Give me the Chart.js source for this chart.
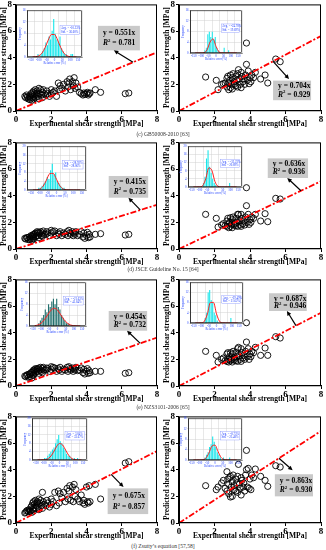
<!DOCTYPE html>
<html lang="en">
<head>
<meta charset="UTF-8">
<title>Predicted vs experimental shear strength</title>
<script src="https://cdn.jsdelivr.net/npm/chart.js@4"></script>
<style>
  html, body { margin: 0; padding: 0; background: #fff; }
  #fig { position: relative; width: 326px; height: 550px; overflow: hidden; }
  #fig canvas { position: absolute; }
  .cap { position: absolute; left: 0; width: 326px; text-align: center;
         font: 5.6px 'Liberation Serif', serif; color: #333; line-height: 8px; }
</style>
</head>
<body>
<div id="fig"></div>
<script>
// ---- data ----
const AXIS_TICKS = [0, 2, 4, 6, 8];

// left column: shared experimental values
const L_X = [0.5,0.55,0.6,0.7,0.75,0.8,0.85,0.9,0.9,0.95,1.0,1.0,0.65,0.8,0.95,1.0,
  1.05,1.1,1.1,1.15,1.2,1.25,1.3,1.3,1.35,1.4,1.45,1.5,1.5,1.55,1.6,1.2,
  1.7,1.75,1.8,1.9,2.0,2.0,2.1,2.2,2.3,2.4,2.45,2.5,
  2.6,2.7,2.8,2.9,2.95,3.0,3.05,3.1,3.2,3.25,3.3,3.35,3.4,3.5,
  3.6,3.7,3.8,3.85,3.9,4.0,4.05,4.1,4.15,4.2,4.5,4.8,
  6.2,6.4];
const C_L_Y = [1.1,1.0,1.2,0.9,1.1,1.0,1.3,0.8,1.2,1.0,1.5,1.1,1.05,0.85,1.4,0.9,
  1.3,1.0,1.6,1.2,1.5,1.1,1.7,0.9,1.3,1.6,1.2,1.4,1.0,1.6,1.3,1.35,
  1.2,1.5,1.3,1.1,1.6,1.3,1.4,1.5,1.1,2.1,1.6,1.9,
  1.7,2.0,1.5,2.2,1.8,2.1,2.4,1.6,2.2,1.9,2.5,1.7,2.1,1.8,
  1.4,1.3,1.2,1.35,1.25,1.3,1.4,1.2,1.3,1.35,1.6,1.4,
  1.3,1.35];
const D_L_Y = [0.8,0.75,0.85,0.7,0.9,0.8,1.0,0.65,0.95,0.8,1.1,0.9,0.85,0.7,1.05,0.75,
  1.1,0.9,1.2,1.0,1.3,1.0,1.25,0.85,1.15,1.3,1.0,1.2,0.95,1.35,1.1,1.2,
  1.1,1.3,1.2,1.0,1.4,1.2,1.3,1.35,1.0,1.2,1.1,1.3,
  1.0,1.2,1.1,1.3,1.0,1.4,1.2,1.1,1.3,1.0,1.2,1.1,1.3,1.0,
  1.1,1.3,0.9,1.2,0.8,1.0,1.25,0.85,1.1,0.9,1.1,1.15,
  1.05,1.1];
const E_L_Y = [0.75,0.7,0.8,0.65,0.9,0.85,1.0,0.6,1.0,0.8,1.2,0.9,0.85,0.7,1.1,0.8,
  1.2,1.0,1.3,1.1,1.3,1.1,1.35,0.95,1.2,1.4,1.1,1.3,1.0,1.4,1.2,1.25,
  1.2,1.35,1.3,1.1,1.45,1.25,1.4,1.35,1.1,1.3,1.2,1.4,
  1.1,1.25,1.2,1.4,1.1,1.45,1.3,1.2,1.35,1.1,1.3,1.2,1.4,1.15,
  1.2,1.35,1.0,1.25,0.9,1.1,1.3,0.95,1.15,1.0,1.1,1.1,
  0.95,1.0];
const F_L_Y = [0.75,0.8,0.9,0.85,1.0,0.9,1.2,0.8,1.3,1.0,1.6,1.1,0.95,0.85,1.5,0.9,
  1.4,1.1,1.7,1.3,1.6,1.2,1.8,1.0,1.5,1.7,1.3,2.3,1.1,1.6,1.4,1.5,
  1.3,1.7,1.5,1.2,1.8,1.4,1.6,2.3,1.3,2.4,1.5,2.2,
  1.9,2.3,1.6,2.6,1.8,2.4,2.8,1.7,2.7,1.6,2.9,2.0,2.5,1.8,
  1.6,2.1,1.5,1.7,1.4,2.7,1.6,1.5,2.8,1.6,2.9,1.8,
  4.5,4.6];

// right column: shared experimental values
const R_X = [1.5,2.1,2.2,2.4,2.5,2.6,2.7,2.7,2.75,2.8,2.8,2.85,2.9,2.9,2.95,3.0,3.0,3.05,3.1,3.1,
  3.2,3.2,3.25,3.3,3.3,3.35,3.4,3.45,3.5,3.5,3.55,3.6,3.65,3.7,3.75,3.8,3.8,3.85,3.9,3.95,
  4.0,4.05,4.1,4.2,4.3,4.6,4.85,5.0,5.45,5.7];
const C_R_Y = [2.55,2.3,1.6,2.0,2.05,2.1,2.45,1.8,2.6,2.1,1.6,2.3,1.75,2.7,2.0,2.5,1.65,2.8,2.2,2.0,
  2.6,1.9,2.3,2.8,1.8,3.1,2.4,2.0,2.9,1.75,2.6,2.2,2.4,2.0,2.7,5.1,3.5,2.3,3.0,2.05,
  2.5,2.2,2.7,2.5,2.9,2.4,2.7,2.1,3.9,3.7];
const D_R_Y = [2.6,2.3,1.65,1.8,1.9,1.75,2.1,1.7,2.3,1.9,1.6,2.0,1.7,2.35,1.85,2.2,1.6,2.4,1.9,1.8,
  2.3,1.75,2.0,2.6,1.7,2.6,2.1,1.8,2.6,1.7,2.3,1.9,2.1,1.8,2.4,4.6,3.25,2.0,2.6,1.85,
  2.2,2.0,2.4,2.3,2.6,2.1,2.65,2.05,3.8,3.75];
const E_R_Y = [2.6,2.3,1.8,2.0,2.1,1.9,2.4,1.85,2.5,2.0,1.8,2.2,1.9,2.5,2.0,2.4,1.8,2.6,2.1,1.95,
  2.5,1.9,2.2,2.8,1.85,2.9,2.3,2.0,2.8,1.85,2.5,2.1,2.3,2.0,2.6,4.75,3.3,2.2,2.8,2.0,
  2.4,2.2,2.6,2.5,2.9,2.3,2.85,2.3,3.7,3.6];
const F_R_Y = [2.8,2.5,2.7,3.0,3.2,2.6,3.85,2.4,3.3,2.9,2.2,3.4,1.95,3.5,2.7,3.1,2.0,3.6,2.8,2.5,
  3.3,2.4,3.0,3.5,2.3,4.4,2.9,2.6,3.4,2.1,3.2,2.7,3.0,2.4,3.6,5.45,4.0,2.7,4.1,2.6,
  3.3,2.5,3.6,3.4,4.05,3.5,3.2,2.75,4.3,4.2];

const SLOPES = ['0.551', '0.704', '0.415', '0.636', '0.454', '0.687', '0.675', '0.863'];
const R2 = ['0.781', '0.929', '0.735', '0.936', '0.732', '0.946', '0.857', '0.930'];

// inset histograms (relative error, %)
const HIST_X = [-145,-135,-125,-115,-105,-95,-85,-75,-65,-55,-45,-35,-25,-15,-5,
  5,15,25,35,45,55,65,75,85,95,105,115,125,135,145];
const C_L_HIST = [0,0,0,0,1,0,1,2,3,5,4,7,6,9,13,8,6,5,7,3,2,1,1,0,0,1,1,0,0,0];
const C_R_HIST = [0,0,0,0,0,0,0,1,2,7,8,6,8,5,6,2,1,0,0,0,2,0,0,1,0,0,0,0,0,0];
const D_L_HIST = [0,0,0,0,1,1,2,3,4,6,5,9,12,7,8,4,3,2,1,1,0,0,0,0,0,0,0,0,0,0];
const D_R_HIST = [0,0,0,0,0,0,0,2,5,14,18,10,7,4,2,1,0,0,0,0,0,0,0,0,2,0,0,0,0,0];
const E_L_HIST = [0,0,0,1,2,3,4,6,5,8,7,9,10,8,10,7,6,4,3,2,1,1,0,0,0,0,0,0,0,0];
const E_R_HIST = [0,0,0,0,0,0,0,2,4,12,13,9,8,4,3,1,0,0,0,0,0,0,0,0,2,0,0,0,0,0];
const F_L_HIST = [0,0,0,0,0,1,1,2,3,4,5,6,8,10,12,9,8,6,5,3,2,2,1,0,1,0,1,0,0,0];
const F_R_HIST = [0,0,0,0,0,0,0,0,1,2,3,5,6,9,7,5,3,2,1,0,1,0,0,0,1,0,0,0,0,0];

const CURVE_X = [-140,-120,-100,-80,-60,-40,-20,0,20,40,60,80,100,120,140];
const C_L_CURVE = [0,0.1,0.42,1.3,3.2,5.8,7.7,7.7,5.8,3.2,1.3,0.42,0.1,0,0];
const C_R_CURVE = [0,0,0,0.12,1.2,4.1,5.3,2.5,0.44,0.03,0,0,0,0,0];
const D_L_CURVE = [0,0.07,0.4,1.7,4.5,7.5,7.6,4.9,1.9,0.47,0.07,0,0,0,0];
const D_R_CURVE = [0,0,0.04,0.63,4.0,9.4,8.1,2.6,0.3,0,0,0,0,0,0];
const E_L_CURVE = [0.11,0.38,1.07,2.35,4.1,5.8,6.5,5.8,4.1,2.35,1.07,0.38,0.11,0.02,0];
const E_R_CURVE = [0,0,0.05,0.68,3.6,8.1,8.1,3.6,0.68,0.05,0,0,0,0,0];
const F_L_CURVE = [0,0.01,0.07,0.38,1.4,3.5,6.3,7.9,7.2,4.6,2.1,0.65,0.15,0.02,0];
const F_R_CURVE = [0,0,0,0.09,0.66,2.6,5.3,5.7,3.2,0.95,0.15,0.01,0,0,0];

const INSET_YMAX = [16, 16, 20, 20, 16, 16, 20, 16];
const AVG = ['-10.33%', '-24.78%', '-28.92%', '-33.23%', '-21.63%', '-29.49%', '3.84%', '-8.73%'];
const STD = ['36.60%', '19.69%', '28.06%', '20.89%', '41.84%', '21.62%', '33.67%', '25.48%'];

const CAPTIONS = ['(c) GB50008-2010 [63]', '(d) JSCE Guideline No. 15 [64]',
  '(e) NZS3101-2006 [65]', '(f) Zsutty\u2019s equation [57,58]'];

// ---- layout ----
const SERIF = "'Liberation Serif', 'Times New Roman', serif";
const fig = document.getElementById('fig');
const ROW_TOP = [3, 141, 278, 415];
const CAP_TOP = [130, 265, 403, 542];
const PLOT_H = 108;

const panels = [
  { col: 0, row: 0, xs: L_X, ys: C_L_Y, hist: C_L_HIST, curve: C_L_CURVE, bar: '#17e6ea',
    box: [4.65, 6.39, 7.03, 4.55], arrow: [6.64, 3.66, 5.55, 4.55], inset: [27, 10, 55, 47] },
  { col: 1, row: 0, xs: R_X, ys: C_R_Y, hist: C_R_HIST, curve: C_R_CURVE, bar: '#17e6ea',
    box: [5.3, 2.28, 7.44, 0.81], arrow: [5.3, 3.73, 6.2, 2.4], inset: [190, 10, 52, 43] },
  { col: 0, row: 1, xs: L_X, ys: D_L_Y, hist: D_L_HIST, curve: D_L_CURVE, bar: '#17e6ea',
    box: [5.26, 5.48, 7.5, 3.85], arrow: [7.05, 2.93, 6.38, 3.85], inset: [27, 146, 59, 44] },
  { col: 1, row: 1, xs: R_X, ys: D_R_Y, hist: D_R_HIST, curve: D_R_CURVE, bar: '#17e6ea',
    box: [5.0, 6.8, 7.27, 5.33], arrow: [6.87, 4.37, 6.1, 5.33], inset: [188, 146, 54, 41] },
  { col: 0, row: 2, xs: L_X, ys: E_L_Y, hist: E_L_HIST, curve: E_L_CURVE, bar: '#23706e',
    box: [5.26, 5.63, 7.44, 4.15], arrow: [7.05, 3.2, 6.3, 4.15], inset: [29, 282, 57, 44] },
  { col: 1, row: 2, xs: R_X, ys: E_R_Y, hist: E_R_HIST, curve: E_R_CURVE, bar: '#17e6ea',
    box: [5.07, 6.96, 7.2, 5.63], arrow: [6.59, 4.53, 6.08, 5.63], inset: [190, 282, 53, 41] },
  { col: 0, row: 3, xs: L_X, ys: F_L_Y, hist: F_L_HIST, curve: F_L_CURVE, bar: '#17e6ea',
    box: [5.2, 2.6, 7.5, 0.67], arrow: [5.4, 3.65, 6.1, 2.7], inset: [32, 418, 55, 42] },
  { col: 1, row: 3, xs: R_X, ys: F_R_Y, hist: F_R_HIST, curve: F_R_CURVE, bar: '#17e6ea',
    box: [5.4, 3.66, 7.55, 2.0], arrow: [5.63, 4.86, 6.4, 3.96], inset: [188, 418, 54, 42] }
];

function addCanvas(left, top, w, h) {
  const c = document.createElement('canvas');
  c.width = w; c.height = h;
  c.style.left = left + 'px'; c.style.top = top + 'px';
  c.style.width = w + 'px'; c.style.height = h + 'px';
  fig.appendChild(c);
  return c;
}

// box around the plot area
const frame = {
  id: 'frame',
  afterDraw(chart) {
    const a = chart.chartArea, ctx = chart.ctx;
    ctx.save();
    ctx.strokeStyle = '#000';
    ctx.lineWidth = chart.options.frameWidth || 1;
    ctx.strokeRect(a.left + 0.5, a.top + 0.5, a.right - a.left - 1, a.bottom - a.top - 1);
    ctx.restore();
  }
};

// equation box + arrow
function eqBox(p, i) {
  return {
    id: 'eqBox',
    afterDatasetsDraw(chart) {
      const ctx = chart.ctx, x = chart.scales.x, y = chart.scales.y;
      const L = x.getPixelForValue(p.box[0]), T = y.getPixelForValue(p.box[1]);
      const R = x.getPixelForValue(p.box[2]), B = y.getPixelForValue(p.box[3]);
      ctx.save();
      ctx.fillStyle = '#c9c9c9';
      ctx.fillRect(L, T, R - L, B - T);
      // arrow
      const x1 = x.getPixelForValue(p.arrow[0]), y1 = y.getPixelForValue(p.arrow[1]);
      const x2 = x.getPixelForValue(p.arrow[2]), y2 = y.getPixelForValue(p.arrow[3]);
      const ang = Math.atan2(y2 - y1, x2 - x1);
      ctx.strokeStyle = '#000'; ctx.fillStyle = '#000'; ctx.lineWidth = 1.2;
      ctx.beginPath();
      ctx.moveTo(x1, y1);
      ctx.lineTo(x2 - 3 * Math.cos(ang), y2 - 3 * Math.sin(ang));
      ctx.stroke();
      ctx.beginPath();
      ctx.moveTo(x2, y2);
      ctx.lineTo(x2 - 5 * Math.cos(ang - 0.45), y2 - 5 * Math.sin(ang - 0.45));
      ctx.lineTo(x2 - 5 * Math.cos(ang + 0.45), y2 - 5 * Math.sin(ang + 0.45));
      ctx.closePath();
      ctx.fill();
      // text
      const tx = L + 5, h = B - T;
      ctx.textBaseline = 'middle';
      ctx.font = 'bold 7.5px ' + SERIF;
      ctx.fillText('y = ' + SLOPES[i] + 'x', tx, T + h * 0.3);
      const ty = T + h * 0.72;
      ctx.font = 'bold italic 7.5px ' + SERIF;
      ctx.fillText('R', tx, ty);
      const w1 = ctx.measureText('R').width;
      ctx.font = 'bold 4.8px ' + SERIF;
      ctx.fillText('2', tx + w1, ty - 2.6);
      const w2 = ctx.measureText('2').width;
      ctx.font = 'bold 7.5px ' + SERIF;
      ctx.fillText(' = ' + R2[i], tx + w1 + w2, ty);
      ctx.restore();
    }
  };
}

function mainChart(p, i) {
  const left = p.col * 163, rightPad = p.col ? 5 : 6;
  const top = ROW_TOP[p.row] - 5;
  const cv = addCanvas(left, top, 163, 5 + PLOT_H + 18);
  const tickFont = { family: SERIF, size: 9, weight: 'bold' };
  const titleFont = { family: SERIF, size: 7.5, weight: 'bold' };
  const slope = parseFloat(SLOPES[i]);
  const xMax = AXIS_TICKS[AXIS_TICKS.length - 1];
  new Chart(cv, {
    type: 'scatter',
    data: {
      datasets: [
        {
          type: 'line',
          data: [{ x: 0, y: 0 }, { x: xMax, y: xMax * slope }],
          borderColor: '#ff0000', borderWidth: 1.8, borderDash: [6, 2, 2, 2],
          pointRadius: 0, order: 0
        },
        {
          data: p.xs.map((v, k) => ({ x: v, y: p.ys[k] })),
          pointStyle: 'circle', pointRadius: 3.1, borderWidth: 0.9,
          borderColor: '#000', backgroundColor: 'rgba(0,0,0,0)', order: 1
        }
      ]
    },
    options: {
      responsive: false, animation: false, events: [],
      layout: { padding: { top: 5, right: rightPad, left: 0, bottom: 0 } },
      plugins: { legend: { display: false }, tooltip: { enabled: false } },
      frameWidth: 1,
      scales: {
        x: {
          type: 'linear', min: AXIS_TICKS[0], max: xMax,
          afterBuildTicks: s => { s.ticks = AXIS_TICKS.map(v => ({ value: v })); },
          ticks: { font: tickFont, color: '#000', padding: 0, maxRotation: 0 },
          grid: { drawOnChartArea: false, tickLength: 3, color: '#000' },
          border: { color: '#000', width: 1.2 },
          title: { display: true, text: 'Experimental shear strength [MPa]', font: titleFont,
                   color: '#000', padding: 0 },
          afterFit: s => { s.height = 18; }
        },
        y: {
          type: 'linear', min: AXIS_TICKS[0], max: xMax,
          afterBuildTicks: s => { s.ticks = AXIS_TICKS.map(v => ({ value: v })); },
          ticks: { font: tickFont, color: '#000', padding: 1 },
          grid: { drawOnChartArea: false, tickLength: 3, color: '#000' },
          border: { color: '#000', width: 1.2 },
          title: { display: true, text: 'Predicted shear strength [MPa]', font: titleFont,
                   color: '#000', padding: 0 },
          afterFit: s => { s.width = 16; }
        }
      }
    },
    plugins: [frame, eqBox(p, i)]
  });
}

// white background + stats text for the insets
const whiteBg = {
  id: 'whiteBg',
  beforeDraw(chart) {
    const a = chart.chartArea, ctx = chart.ctx;
    ctx.save();
    ctx.fillStyle = '#fff';
    ctx.fillRect(a.left, a.top, a.right - a.left, a.bottom - a.top);
    ctx.restore();
  }
};
function stats(i) {
  return {
    id: 'stats',
    afterDraw(chart) {
      const a = chart.chartArea, ctx = chart.ctx;
      const w = a.right - a.left, h = a.bottom - a.top;
      const bx = a.left + w * 0.6, by = a.top + h * 0.32;
      ctx.save();
      ctx.fillStyle = '#fff';
      ctx.fillRect(bx, by, w * 0.35, h * 0.2);
      ctx.strokeStyle = '#8090ff'; ctx.lineWidth = 0.4;
      ctx.strokeRect(bx, by, w * 0.35, h * 0.2);
      ctx.fillStyle = '#2040ff';
      ctx.font = '3px ' + SERIF;
      ctx.textBaseline = 'middle';
      ctx.fillText('Avg. = ' + AVG[i], bx + 1, by + h * 0.06);
      ctx.fillText('Std. = ' + STD[i], bx + 1, by + h * 0.14);
      ctx.restore();
    }
  };
}

function insetChart(p, i) {
  const [pl, pt, pw, ph] = p.inset;
  const cv = addCanvas(pl - 9, pt - 2, pw + 9 + 2, ph + 2 + 8);
  const small = { family: SERIF, size: 3 };
  new Chart(cv, {
    type: 'bar',
    data: {
      datasets: [
        {
          type: 'line',
          data: CURVE_X.map((v, k) => ({ x: v, y: p.curve[k] })),
          borderColor: '#ff2020', borderWidth: 1, pointRadius: 0,
          cubicInterpolationMode: 'monotone', order: 0
        },
        {
          type: 'bar',
          data: HIST_X.map((v, k) => ({ x: v, y: p.hist[k] })),
          backgroundColor: p.bar, barPercentage: 0.7, categoryPercentage: 1, order: 1
        }
      ]
    },
    options: {
      responsive: false, animation: false, events: [],
      layout: { padding: { top: 2, right: 2, left: 0, bottom: 0 } },
      plugins: { legend: { display: false }, tooltip: { enabled: false } },
      frameWidth: 0.6,
      scales: {
        x: {
          type: 'linear', min: -150, max: 150,
          ticks: { stepSize: 50, font: small, color: '#2040ff', padding: 0, maxRotation: 0, autoSkip: false },
          grid: { color: '#d0d0d0', lineWidth: 0.5, tickLength: 1 },
          border: { color: '#444', width: 0.6 },
          title: { display: true, text: 'Relative error [%]', font: small, color: '#2040ff', padding: 0 },
          afterFit: s => { s.height = 8; }
        },
        y: {
          min: 0, max: INSET_YMAX[i],
          ticks: { stepSize: 4, font: small, color: '#2040ff', padding: 0.5 },
          grid: { color: '#d0d0d0', lineWidth: 0.5, tickLength: 1 },
          border: { color: '#444', width: 0.6 },
          title: { display: true, text: 'Frequency', font: small, color: '#2040ff', padding: 0 },
          afterFit: s => { s.width = 9; }
        }
      }
    },
    plugins: [whiteBg, frame, stats(i)]
  });
}

panels.forEach((p, i) => mainChart(p, i));
panels.forEach((p, i) => insetChart(p, i));

CAPTIONS.forEach((t, r) => {
  const d = document.createElement('div');
  d.className = 'cap';
  d.style.top = CAP_TOP[r] + 'px';
  d.textContent = t;
  fig.appendChild(d);
});
</script>
</body>
</html>
